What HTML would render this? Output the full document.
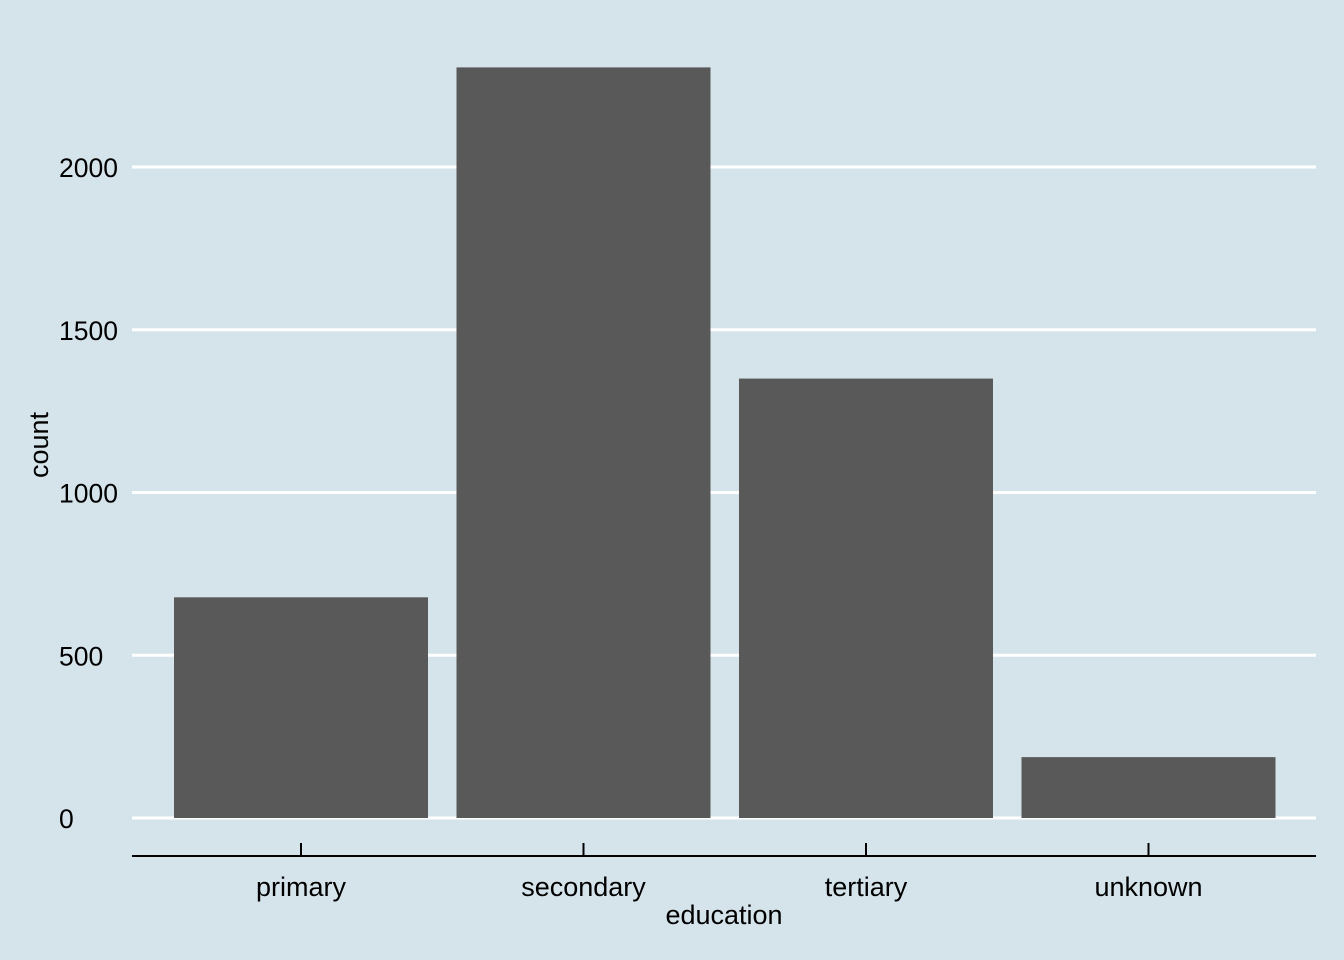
<!DOCTYPE html>
<html><head><meta charset="utf-8"><style>
html,body{margin:0;padding:0;background:#d5e4eb;}
svg{display:block;font-family:"Liberation Sans",Arial,sans-serif;}
</style></head><body>
<svg id="chart" width="1344" height="960" viewBox="0 0 1344 960">
<rect x="0" y="0" width="1344" height="960" fill="#d5e4eb"/>
<g id="grid"></g><g id="bars"></g><g id="axes"></g>
</svg>
<script>
const categories = ["primary","secondary","tertiary","unknown"];
const counts = [678, 2306, 1350, 187];
const yTicks = [0, 500, 1000, 1500, 2000];
const NS = "http://www.w3.org/2000/svg";
const x0 = 132, x1 = 1316, yZero = 818, pxPerUnit = 651/2000;
const step = 282.5, firstCenter = 301, barW = 254;
function y(v){ return yZero - v*pxPerUnit; }
function xc(i){ return firstCenter + i*step; }
function mk(tag, attrs, parent){ const e=document.createElementNS(NS,tag); for(const k in attrs) e.setAttribute(k,attrs[k]); parent.appendChild(e); return e; }
const grid=document.getElementById('grid'), bars=document.getElementById('bars'), axes=document.getElementById('axes');
yTicks.forEach(t=>{
  const l=mk('line',{x1:x0,x2:x1,y1:y(t),y2:y(t),stroke:'#ffffff','stroke-width':3},grid);
  
  
  const tx=mk('text',{x:59,y:y(t)+10,'text-anchor':'start','font-size':26.5,fill:'#000'},axes);
  tx.textContent=t;
  
  
});
categories.forEach((c,i)=>{
  const r=mk('rect',{x:xc(i)-barW/2,y:y(counts[i]),width:barW,height:yZero-y(counts[i]),fill:'#595959'},bars);
  
  
  const tk=mk('line',{x1:xc(i),x2:xc(i),y1:843,y2:856,stroke:'#000','stroke-width':2},axes);
  
  
  const lb=mk('text',{x:xc(i),y:896,'text-anchor':'middle','font-size':27,fill:'#000'},axes);
  lb.textContent=c;
  
  
});
const ax=mk('line',{x1:x0,x2:x1,y1:856,y2:856,stroke:'#000','stroke-width':2},axes);


const xt=mk('text',{x:724,y:924,'text-anchor':'middle','font-size':27,fill:'#000'},axes);
xt.textContent='education';


const yt=mk('text',{x:0,y:0,'text-anchor':'middle','font-size':27,fill:'#000',transform:'translate(48,445) rotate(-90)'},axes);
yt.textContent='count';


</script>
</body></html>
